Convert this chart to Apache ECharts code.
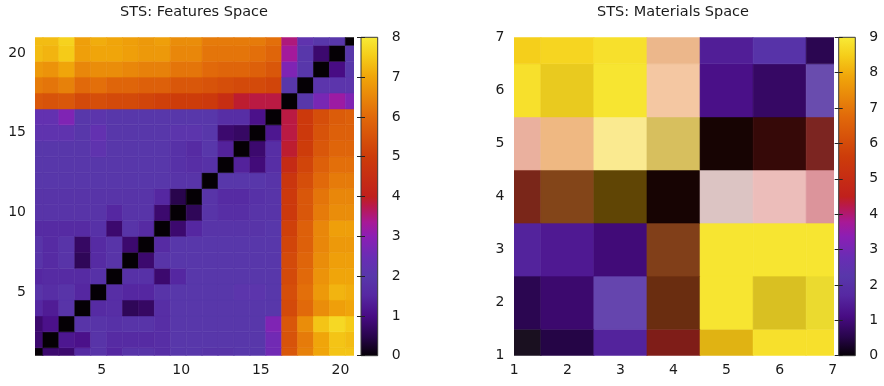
<!DOCTYPE html>
<html><head><meta charset="utf-8">
<script src="https://cdn.jsdelivr.net/npm/echarts@6/dist/echarts.min.js"></script>
<style>html,body{margin:0;padding:0;background:#fff}#c{width:884px;height:386px}</style>
</head><body><div id="c"></div>
<script>
// ---------------- data ----------------
const featureTitle = 'STS: Features Space';
const materialTitle = 'STS: Materials Space';
const featureTicks = [5, 10, 15, 20];
const featureMin = 1, featureMax = 21;
const featureCbMax = 8;
const materialMin = 1, materialMax = 7;
const materialCbMax = 9;

// Features-space distance matrix: rows y = 1..21 (bottom to top), columns x = 1..21
const featureRows = [
  [0, 0.8, 0.8, 1.6, 1.9, 1.5, 1.9, 1.9, 1.7, 2.0, 2.0, 1.9, 1.9, 2.0, 2.0, 2.6, 5.6, 6.4, 7.0, 7.4, 7.4],
  [0.8, 0, 1.2, 1.1, 1.9, 1.6, 1.6, 1.6, 1.7, 2.0, 2.0, 2.0, 2.0, 2.0, 2.0, 2.6, 5.5, 6.3, 7.0, 7.4, 7.3],
  [0.8, 1.1, 0, 1.9, 1.9, 1.8, 1.9, 1.9, 1.7, 2.0, 2.0, 2.0, 2.0, 2.0, 2.0, 2.8, 5.6, 6.6, 7.4, 7.7, 7.5],
  [1.5, 1.3, 1.9, 0, 1.6, 1.7, 0.6, 0.7, 1.7, 2.0, 2.0, 2.0, 2.0, 2.0, 2.0, 2.0, 5.3, 6.0, 6.6, 6.9, 7.0],
  [1.9, 1.7, 1.9, 1.5, 0, 1.7, 1.5, 1.5, 1.9, 2.0, 2.0, 2.0, 2.0, 2.1, 2.1, 2.0, 5.4, 6.1, 6.8, 7.2, 7.1],
  [1.5, 1.6, 1.6, 1.6, 1.8, 0, 1.8, 1.8, 0.8, 1.5, 2.0, 2.0, 2.0, 2.0, 2.0, 2.0, 5.3, 6.0, 6.7, 7.0, 7.0],
  [1.9, 1.6, 1.9, 0.6, 1.6, 1.9, 0, 0.8, 1.9, 2.0, 2.0, 2.0, 2.0, 2.0, 2.0, 2.0, 5.3, 5.9, 6.6, 6.9, 6.9],
  [1.9, 1.6, 1.9, 0.7, 1.6, 1.9, 0.8, 0, 1.6, 2.0, 2.0, 2.0, 2.0, 2.0, 2.0, 2.0, 5.2, 5.8, 6.5, 6.8, 6.8],
  [1.6, 1.6, 1.6, 1.6, 1.8, 0.8, 1.9, 1.6, 0, 0.8, 1.5, 1.9, 1.9, 1.9, 1.9, 2.0, 5.1, 5.8, 6.5, 6.9, 6.9],
  [1.9, 1.9, 1.9, 1.9, 1.9, 1.5, 1.9, 1.9, 0.8, 0, 0.6, 1.9, 1.7, 1.7, 1.9, 1.9, 4.9, 5.6, 6.3, 6.6, 6.6],
  [1.9, 1.9, 1.9, 1.9, 1.9, 1.9, 1.9, 1.9, 1.5, 0.5, 0, 1.9, 1.6, 1.6, 1.8, 1.9, 4.9, 5.6, 6.2, 6.5, 6.5],
  [2.0, 2.0, 2.0, 2.0, 2.0, 2.0, 2.0, 2.0, 2.0, 1.9, 1.9, 0, 2.0, 2.0, 2.0, 1.9, 4.8, 5.4, 6.0, 6.3, 6.3],
  [2.0, 2.0, 2.0, 2.0, 2.0, 2.0, 2.0, 2.0, 2.0, 1.8, 1.7, 1.8, 0, 1.4, 0.9, 1.7, 4.4, 5.2, 5.8, 6.1, 6.1],
  [2.0, 2.0, 2.0, 2.0, 2.2, 2.0, 2.0, 2.0, 2.0, 1.8, 1.6, 2.0, 1.4, 0, 0.8, 1.7, 3.9, 5.0, 5.6, 5.9, 5.9],
  [2.2, 2.2, 2.2, 2.0, 2.3, 2.0, 2.0, 2.0, 2.0, 2.1, 2.1, 2.0, 0.8, 0.7, 0, 1.2, 3.8, 4.9, 5.5, 5.8, 5.8],
  [2.3, 2.3, 2.8, 2.0, 2.1, 2.0, 2.0, 2.0, 2.0, 2.0, 2.0, 2.0, 1.7, 1.7, 1.1, 0, 3.8, 4.9, 5.4, 5.7, 5.8],
  [5.6, 5.5, 5.6, 5.3, 5.4, 5.3, 5.3, 5.2, 5.1, 5.0, 5.0, 4.9, 4.5, 3.9, 3.8, 3.8, 0, 2.0, 2.7, 3.2, 2.8],
  [6.3, 6.2, 6.4, 6.0, 6.1, 5.9, 5.9, 5.8, 5.8, 5.6, 5.6, 5.5, 5.4, 5.3, 5.3, 5.2, 2.0, 0, 2.1, 2.1, 2.1],
  [6.8, 6.7, 7.0, 6.5, 6.6, 6.6, 6.5, 6.4, 6.4, 6.2, 6.2, 6.0, 5.9, 5.9, 5.8, 5.6, 2.8, 2.0, 0, 1.0, 2.0],
  [7.3, 7.2, 7.5, 6.9, 7.0, 7.0, 6.9, 6.8, 6.8, 6.5, 6.5, 6.2, 6.2, 6.2, 6.1, 5.9, 3.3, 2.0, 0.8, 0, 2.0],
  [7.3, 7.3, 7.6, 6.9, 7.1, 7.0, 6.9, 6.8, 6.9, 6.6, 6.6, 6.3, 6.3, 6.3, 6.3, 6.1, 3.5, 2.2, 2.0, 2.0, 0]
];

// Materials-space matrix: rows y = 1..7 (bottom to top), columns x = 1..7
const materialValues = [
  [0.1, 0.5, 1.6, 4.6, 8.3, 8.8, 8.8],
  [0.6, 0.9, 2.3, 6.0, 8.9, 8.7, 8.9],
  [1.6, 1.4, 1.0, 6.3, 8.9, 8.9, 8.9],
  [5.0, 6.6, 8.0, 4.5, 4.5, 4.6, 4.4],
  [5.5, 7.0, 8.6, 8.4, 4.5, 4.5, 4.6],
  [8.8, 8.6, 8.9, 6.8, 1.2, 0.8, 2.2],
  [8.5, 8.6, 8.8, 6.8, 1.5, 2.1, 0.6]
];
// translucent veil laid over the materials image (weight, grey level)
const materialVeil = [
  [0.08, 0, 0, 0.38, 0.08, 0, 0],
  [0, 0, 0.1, 0.55, 0, 0.12, 0.05],
  [0, 0, 0, 0.5, 0, 0, 0],
  [0.45, 0.5, 0.6, 0.88, 0.85, 0.7, 0.55],
  [0.6, 0.5, 0.5, 0.45, 0.88, 0.72, 0.45],
  [0, 0.05, 0, 0.62, 0, 0, 0.15],
  [0, 0, 0, 0.55, 0, 0, 0]
];
const materialVeilGray = [
  [190, 0, 0, 20, 0, 0, 0],
  [0, 0, 200, 20, 0, 0, 0],
  [0, 0, 0, 40, 0, 0, 0],
  [30, 40, 0, 0, 225, 255, 245],
  [255, 250, 255, 180, 0, 0, 40],
  [0, 0, 0, 255, 0, 0, 200],
  [0, 0, 0, 245, 0, 0, 0]
];

// ---------------- palette (style) ----------------
const PAL = [
  [0.000, 5, 0, 5],
  [0.060, 40, 5, 75],
  [0.125, 72, 12, 132],
  [0.190, 86, 40, 162],
  [0.250, 88, 55, 170],
  [0.310, 105, 45, 180],
  [0.375, 140, 30, 180],
  [0.420, 168, 25, 150],
  [0.470, 185, 25, 75],
  [0.500, 192, 32, 28],
  [0.625, 205, 60, 10],
  [0.750, 225, 105, 10],
  [0.875, 240, 165, 10],
  [0.940, 245, 205, 25],
  [1.000, 248, 235, 55]
];
function palRGB(t) {
  t = Math.max(0, Math.min(1, t));
  for (let i = 1; i < PAL.length; i++) {
    if (t <= PAL[i][0]) {
      const a = PAL[i - 1], b = PAL[i];
      const f = (t - a[0]) / (b[0] - a[0]);
      return [a[1] + f * (b[1] - a[1]), a[2] + f * (b[2] - a[2]), a[3] + f * (b[3] - a[3])];
    }
  }
  const l = PAL[PAL.length - 1];
  return [l[1], l[2], l[3]];
}
function rgbStr(c) { return 'rgb(' + c.map(v => Math.round(v)).join(',') + ')'; }
function gradientStops() {
  return PAL.map(p => ({ offset: p[0], color: rgbStr([p[1], p[2], p[3]]) }));
}

// ---------------- build series data ----------------
const featureData = [];
featureRows.forEach((row, r) => row.forEach((v, c) => featureData.push([c + 1, r + 1, v])));
const materialData = [];
materialValues.forEach((row, r) => row.forEach((v, c) =>
  materialData.push([c + 1, r + 1, v, materialVeil[r][c], materialVeilGray[r][c]])));

function cellRenderer(cbMax) {
  return function (params, api) {
    const x = api.value(0), y = api.value(1), v = api.value(2);
    const w = api.value(3) || 0, g = api.value(4) || 0;
    const p0 = api.coord([x - 0.5, y + 0.5]);
    const p1 = api.coord([x + 0.5, y - 0.5]);
    let col = palRGB(v / cbMax);
    col = col.map(ch => (1 - w) * ch + w * g);
    const fill = rgbStr(col);
    return {
      type: 'rect',
      shape: { x: p0[0], y: p0[1], width: p1[0] - p0[0], height: p1[1] - p0[1] },
      style: { fill: fill, stroke: fill, lineWidth: 0.6 }
    };
  };
}
function barRenderer(cbMax) {
  return function (params, api) {
    const p0 = api.coord([0, cbMax]);
    const p1 = api.coord([1, 0]);
    return {
      type: 'rect',
      shape: { x: p0[0], y: p0[1], width: p1[0] - p0[0], height: p1[1] - p0[1] },
      style: {
        fill: new echarts.graphic.LinearGradient(0, 1, 0, 0, gradientStops()),
        stroke: '#3a3a3a', lineWidth: 1
      }
    };
  };
}

const FONT = 'DejaVu Sans';
const TXT = '#1a1a1a';
const plotTop = 37.3, plotH = 318.4;
const G = [
  { left: 35, top: plotTop, width: 318.3, height: plotH },
  { left: 361, top: plotTop, width: 16.7, height: plotH },
  { left: 514.3, top: plotTop, width: 318.4, height: plotH },
  { left: 838.7, top: plotTop, width: 16.6, height: plotH }
];

const labelStyle = { color: TXT, fontFamily: FONT, fontSize: 14 };
const chart = echarts.init(document.getElementById('c'), null, { renderer: 'canvas' });
chart.setOption({
  animation: false,
  backgroundColor: '#fff',
  graphic: [
    { type: 'text', x: 194, y: 12, style: { text: featureTitle, textAlign: 'center', textVerticalAlign: 'middle', font: '14.5px "DejaVu Sans"', fill: TXT } },
    { type: 'text', x: 673, y: 12, style: { text: materialTitle, textAlign: 'center', textVerticalAlign: 'middle', font: '14.5px "DejaVu Sans"', fill: TXT } }
  ],
  grid: G,
  xAxis: [
    { gridIndex: 0, type: 'value', min: featureMin, max: featureMax,
      axisLine: { show: false }, axisTick: { show: false }, splitLine: { show: false },
      axisLabel: Object.assign({ customValues: featureTicks, margin: 8, padding: [0, 0, 0, 6] }, labelStyle) },
    { gridIndex: 1, type: 'value', min: 0, max: 1, show: false },
    { gridIndex: 2, type: 'value', min: materialMin, max: materialMax, interval: 1,
      axisLine: { show: false }, axisTick: { show: false }, splitLine: { show: false },
      axisLabel: Object.assign({ margin: 8, showMinLabel: true, showMaxLabel: true }, labelStyle) },
    { gridIndex: 3, type: 'value', min: 0, max: 1, show: false }
  ],
  yAxis: [
    { gridIndex: 0, type: 'value', min: featureMin, max: featureMax,
      axisLine: { show: false }, axisTick: { show: false }, splitLine: { show: false },
      axisLabel: Object.assign({ customValues: featureTicks, margin: 9 }, labelStyle) },
    { gridIndex: 1, type: 'value', min: 0, max: featureCbMax, interval: 1, position: 'right', z: 10,
      axisLine: { show: false }, splitLine: { show: false },
      axisTick: { show: true, inside: true, length: 4, lineStyle: { color: '#222', width: 1 } },
      axisLabel: Object.assign({ margin: 14 }, labelStyle) },
    { gridIndex: 1, type: 'value', min: 0, max: featureCbMax, interval: 1, position: 'left', z: 10,
      axisLine: { show: false }, splitLine: { show: false }, axisLabel: { show: false },
      axisTick: { show: true, inside: true, length: 4, lineStyle: { color: '#222', width: 1 } } },
    { gridIndex: 2, type: 'value', min: materialMin, max: materialMax, interval: 1,
      axisLine: { show: false }, axisTick: { show: false }, splitLine: { show: false },
      axisLabel: Object.assign({ margin: 10 }, labelStyle) },
    { gridIndex: 3, type: 'value', min: 0, max: materialCbMax, interval: 1, position: 'right', z: 10,
      axisLine: { show: false }, splitLine: { show: false },
      axisTick: { show: true, inside: true, length: 4, lineStyle: { color: '#222', width: 1 } },
      axisLabel: Object.assign({ margin: 14 }, labelStyle) },
    { gridIndex: 3, type: 'value', min: 0, max: materialCbMax, interval: 1, position: 'left', z: 10,
      axisLine: { show: false }, splitLine: { show: false }, axisLabel: { show: false },
      axisTick: { show: true, inside: true, length: 4, lineStyle: { color: '#222', width: 1 } } }
  ],
  series: [
    { type: 'custom', xAxisIndex: 0, yAxisIndex: 0, clip: true, data: featureData, renderItem: cellRenderer(featureCbMax) },
    { type: 'custom', xAxisIndex: 1, yAxisIndex: 1, data: [[0, 0]], renderItem: barRenderer(featureCbMax) },
    { type: 'custom', xAxisIndex: 2, yAxisIndex: 3, clip: true, data: materialData, renderItem: cellRenderer(materialCbMax) },
    { type: 'custom', xAxisIndex: 3, yAxisIndex: 4, data: [[0, 0]], renderItem: barRenderer(materialCbMax) }
  ]
});
</script></body></html>
